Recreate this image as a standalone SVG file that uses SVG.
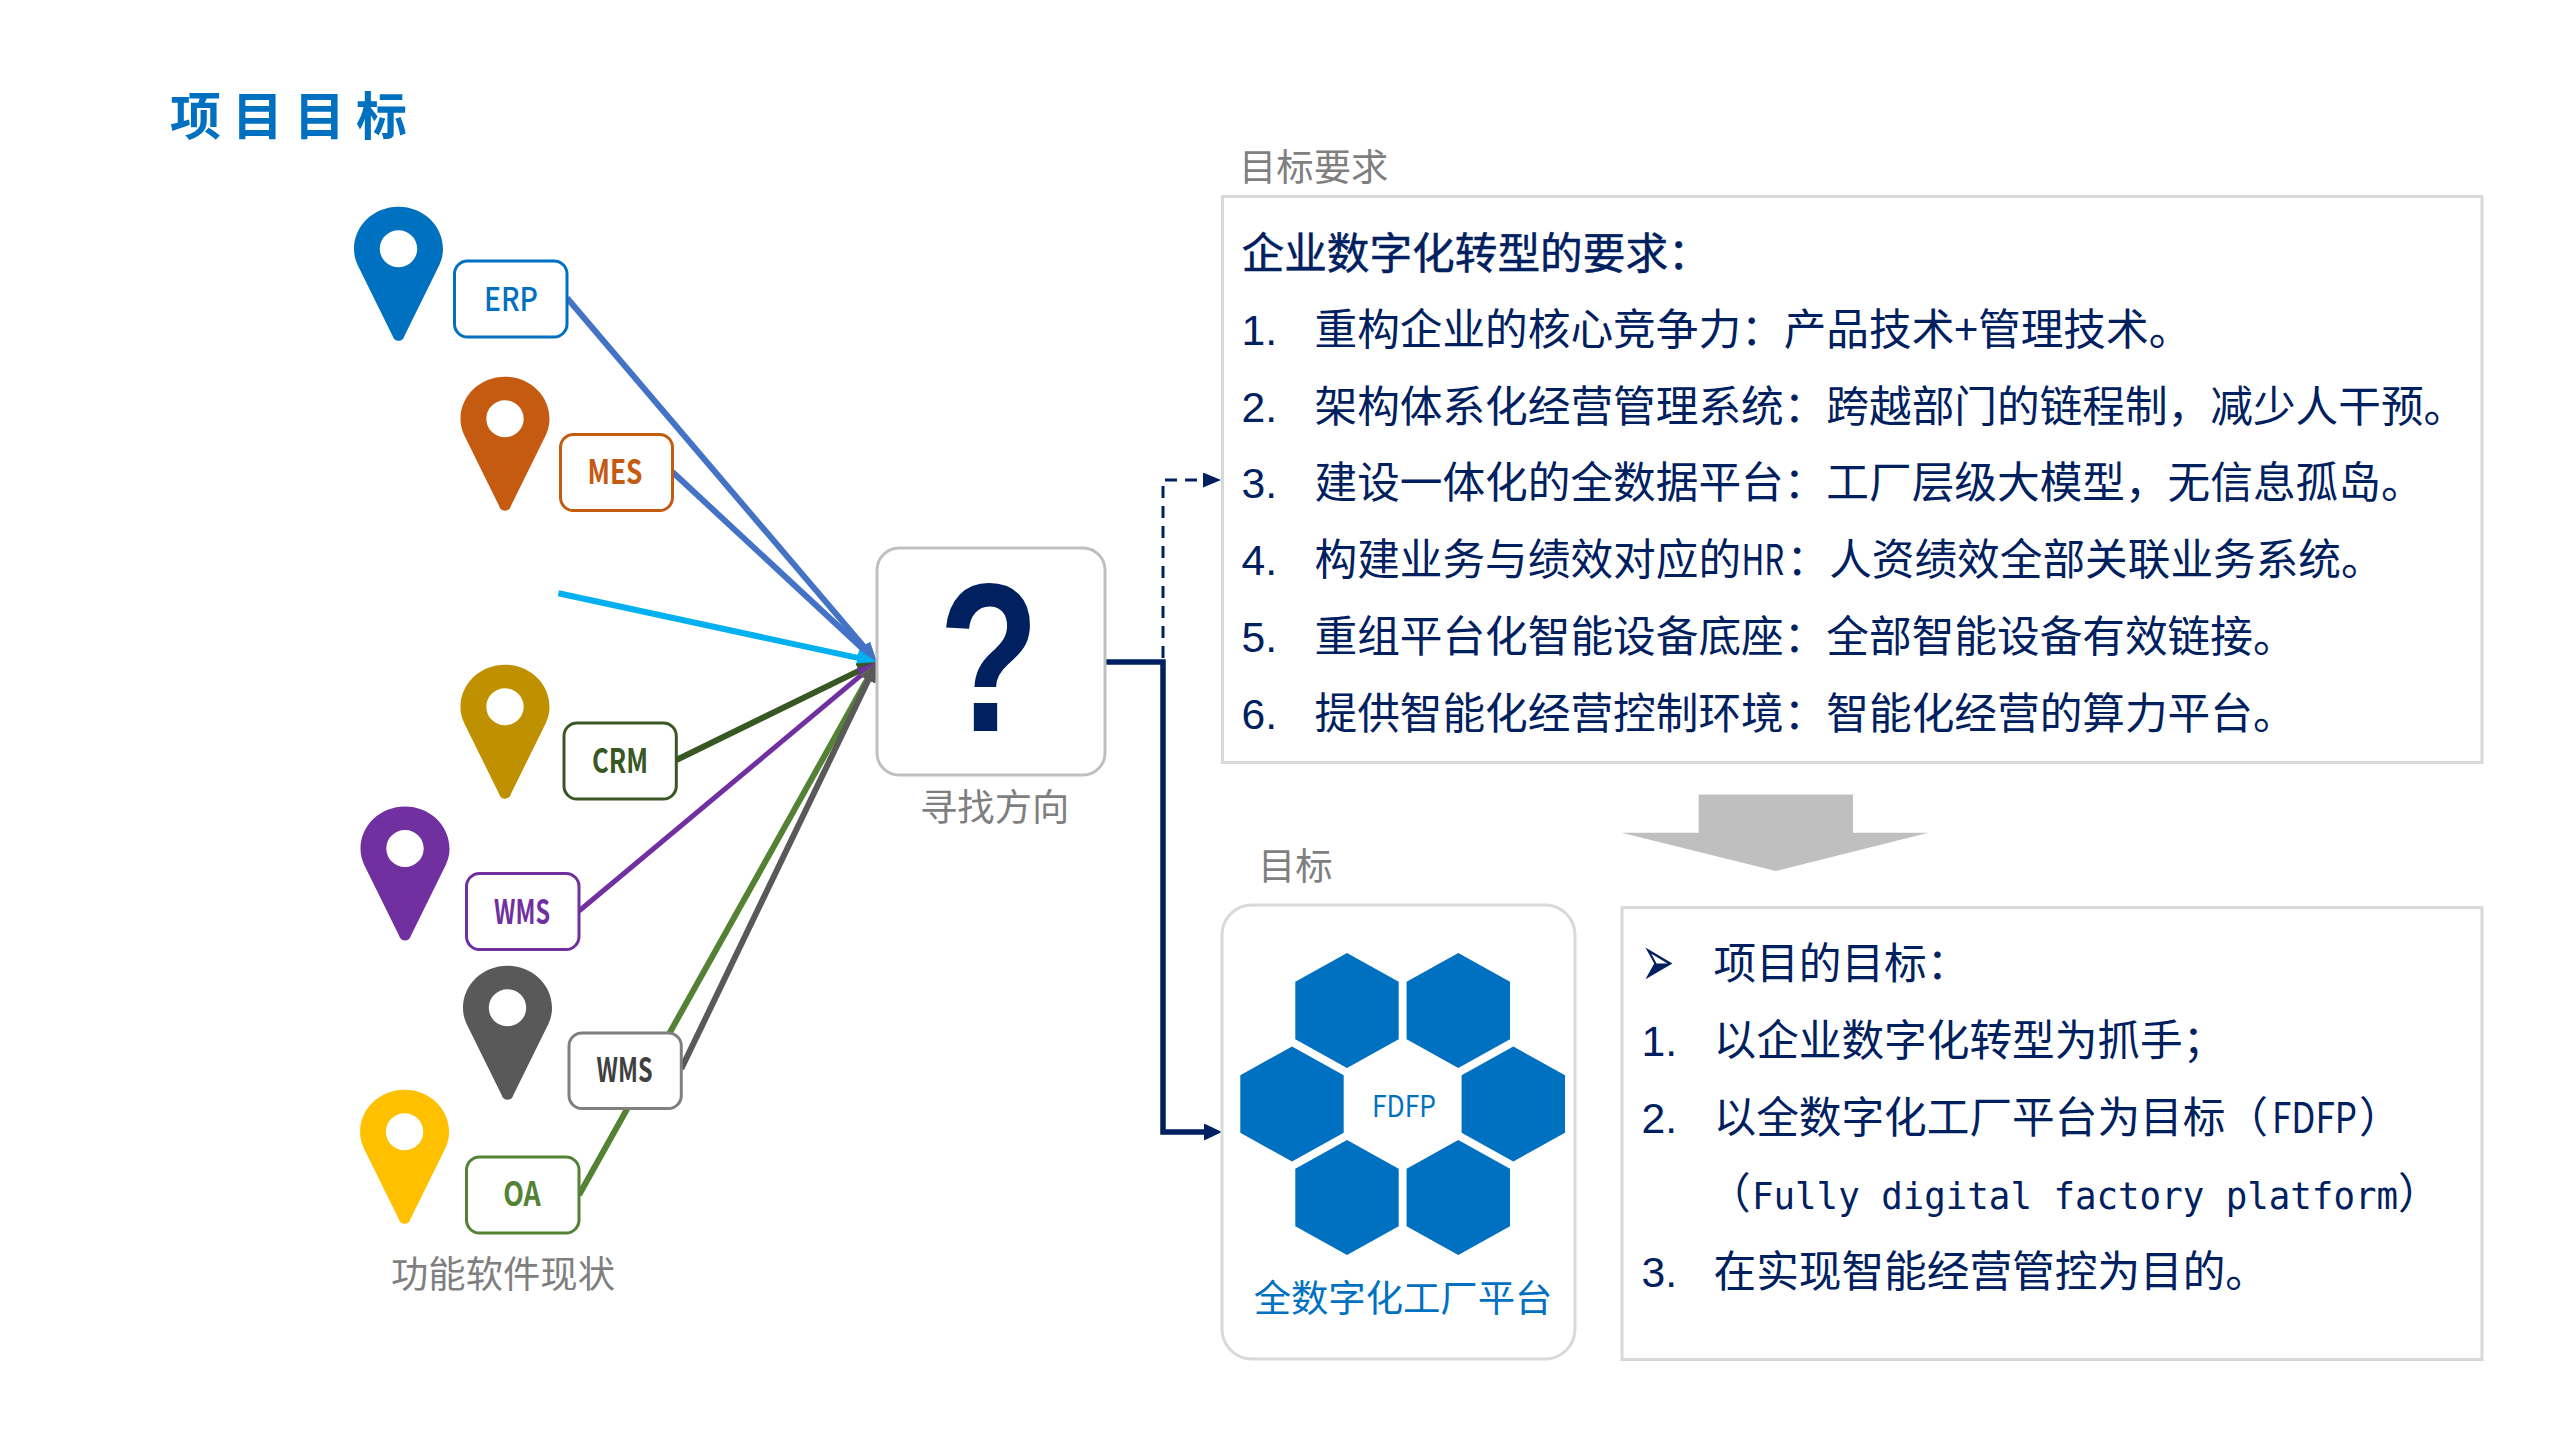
<svg xmlns="http://www.w3.org/2000/svg" width="2560" height="1440" viewBox="0 0 2560 1440">
<style>
text{font-family:"Noto Sans CJK SC","Noto Sans",sans-serif}
.cap{font-size:37.33px;fill:#7f7f7f}
.row{font-size:42.67px;fill:#002060}
.num{font-family:"Liberation Sans",Arial,sans-serif}
.tag{font-size:33px;text-anchor:middle}
.b{font-weight:700}
.box{fill:#fff;stroke-width:3}
.panel{fill:#fff;stroke:#d9d9d9;stroke-width:3}
.hex{fill:#0070c0}
.conn{fill:none;stroke-width:6}
</style>
<defs>
<path id="pin" fill-rule="evenodd" d="M0 0C24.6 0 44.5 18.8 44.5 42C44.5 48 43.5 52 41 58L6 129C5 132.500 3 134 0 134C-3 134 -5 132.500 -6 129L-41 58C-43.500 52 -44.500 48 -44.500 42C-44.500 18.800 -24.600 0 0 0ZM0 23.500C-10.300 23.500 -18.700 31.700 -18.700 42C-18.700 52.300 -10.300 60.500 0 60.500C10.300 60.500 18.700 52.300 18.700 42C18.700 31.700 10.300 23.500 0 23.500Z"/>
<polygon id="hx" points="0,-57.500 51.700,-28.800 51.700,28.800 0,57.500 -51.700,28.800 -51.700,-28.800"/>
<marker id="a1" markerUnits="userSpaceOnUse" viewBox="0 0 20 16" markerWidth="20" markerHeight="16" refX="10" refY="8" orient="auto"><path d="M0 0L20 8L0 16Z" fill="#4472c4"/></marker>
<marker id="a2" markerUnits="userSpaceOnUse" viewBox="0 0 20 16" markerWidth="20" markerHeight="16" refX="10" refY="8" orient="auto"><path d="M0 0L20 8L0 16Z" fill="#00b0f0"/></marker>
<marker id="a3" markerUnits="userSpaceOnUse" viewBox="0 0 20 16" markerWidth="20" markerHeight="16" refX="10" refY="8" orient="auto"><path d="M0 0L20 8L0 16Z" fill="#385723"/></marker>
<marker id="a4" markerUnits="userSpaceOnUse" viewBox="0 0 20 16" markerWidth="20" markerHeight="16" refX="10" refY="8" orient="auto"><path d="M0 0L20 8L0 16Z" fill="#7030a0"/></marker>
<marker id="a5" markerUnits="userSpaceOnUse" viewBox="0 0 20 16" markerWidth="20" markerHeight="16" refX="10" refY="8" orient="auto"><path d="M0 0L20 8L0 16Z" fill="#548235"/></marker>
<marker id="a6" markerUnits="userSpaceOnUse" viewBox="0 0 20 16" markerWidth="20" markerHeight="16" refX="10" refY="8" orient="auto"><path d="M0 0L20 8L0 16Z" fill="#595959"/></marker>
<marker id="a7" markerUnits="userSpaceOnUse" viewBox="0 0 18 17" markerWidth="18" markerHeight="17" refX="1" refY="8.500" orient="auto"><path d="M0 0L18 8.500L0 17Z" fill="#002060"/></marker>
<marker id="a8" markerUnits="userSpaceOnUse" viewBox="0 0 18 15" markerWidth="18" markerHeight="15" refX="1" refY="7.500" orient="auto"><path d="M0 0L18 7.500L0 15Z" fill="#002060"/></marker>
</defs>
<rect width="2560" height="1440" fill="#fff"/>

<text id="title" x="170" y="135" font-size="51" font-weight="700" letter-spacing="11" fill="#0070c0">项目目标</text>

<g id="connectors">
<path class="conn" stroke="#4472c4" marker-end="url(#a1)" d="M567 298L870.500 654.400"/>
<path class="conn" stroke="#4472c4" marker-end="url(#a1)" d="M672.500 472L869.700 655.200"/>
<path class="conn" stroke="#00b0f0" marker-end="url(#a2)" d="M558.400 593.300L867.200 659.900"/>
<path class="conn" stroke="#385723" marker-end="url(#a3)" d="M676.300 760L868 666.400"/>
<path class="conn" stroke="#7030a0" style="stroke-width:5" marker-end="url(#a4)" d="M579 911L869.300 668.400"/>
<path class="conn" stroke="#548235" marker-end="url(#a5)" d="M579 1195L872.100 670.700"/>
<path class="conn" stroke="#595959" marker-end="url(#a6)" d="M681.300 1068.800L872.700 671"/>
<path class="conn" stroke="#002060" style="stroke-width:3" stroke-dasharray="12 8" marker-end="url(#a8)" d="M1163 658V480H1204"/>
<path class="conn" stroke="#002060" style="stroke-width:5.500" marker-end="url(#a7)" d="M1105 662H1163V1132H1205"/>
</g>

<g id="erp"><use href="#pin" x="398.500" y="206.700" fill="#0070c0"/><rect class="box" x="454.500" y="261" width="112.500" height="76" rx="13" stroke="#0070c0"/><text class="tag" x="511" y="311" fill="#0070c0" font-weight="500" textLength="54" lengthAdjust="spacingAndGlyphs">ERP</text></g>
<g id="mes"><use href="#pin" x="505" y="376.700" fill="#c55a11"/><rect class="box" x="560.500" y="434.500" width="112" height="76" rx="13" stroke="#c55a11"/><text class="tag b" x="615" y="484" fill="#c55a11" textLength="55" lengthAdjust="spacingAndGlyphs">MES</text></g>
<g id="crm"><use href="#pin" x="505" y="664.700" fill="#bf9000"/><rect class="box" x="564" y="723" width="112.300" height="76" rx="13" stroke="#385723"/><text class="tag b" x="620" y="773" fill="#385723" textLength="56" lengthAdjust="spacingAndGlyphs">CRM</text></g>
<g id="wms1"><use href="#pin" x="405" y="806.600" fill="#7030a0"/><rect class="box" x="466.500" y="873.500" width="112.500" height="76" rx="13" stroke="#7030a0"/><text class="tag b" x="522" y="923.500" fill="#7030a0" textLength="56" lengthAdjust="spacingAndGlyphs">WMS</text></g>
<g id="wms2"><use href="#pin" x="507.500" y="965.700" fill="#595959"/><rect class="box" x="569" y="1033" width="112.300" height="75.500" rx="13" stroke="#7f7f7f"/><text class="tag b" x="624.500" y="1082" fill="#404040" textLength="56" lengthAdjust="spacingAndGlyphs">WMS</text></g>
<g id="oa"><use href="#pin" x="404.600" y="1089.800" fill="#ffc000"/><rect class="box" x="466.500" y="1157" width="112.500" height="76" rx="13" stroke="#548235"/><text class="tag b" x="522" y="1205.500" fill="#548235" textLength="37.500" lengthAdjust="spacingAndGlyphs">OA</text></g>
<text id="label-software" class="cap" x="391" y="1288">功能软件现状</text>

<g id="question"><rect class="box" x="877" y="548" width="228" height="227" rx="22" stroke="#bfbfbf"/><text x="938.500" y="731" font-size="211" font-weight="700" fill="#002060" style="font-family:'Liberation Sans',Arial,sans-serif" textLength="101" lengthAdjust="spacingAndGlyphs">?</text></g>
<text id="label-direction" class="cap" x="920" y="821">寻找方向</text>

<text id="label-req" class="cap" x="1239" y="180.500">目标要求</text>
<g id="requirements">
<rect class="panel" x="1222.500" y="196.500" width="1259.500" height="566"/>
<text class="row" x="1241.500" y="268.500" stroke="#002060" stroke-width="0.5">企业数字化转型的要求：</text>
<text class="row" y="344.500"><tspan class="num" x="1241.500">1.</tspan><tspan x="1314.500">重构企业的核心竞争力：产品技术+管理技术。</tspan></text>
<text class="row" y="421.500"><tspan class="num" x="1241.500">2.</tspan><tspan x="1314.500">架构体系化经营管理系统：跨越部门的链程制，减少人干预。</tspan></text>
<text class="row" y="498"><tspan class="num" x="1241.500">3.</tspan><tspan x="1314.500">建设一体化的全数据平台：工厂层级大模型，无信息孤岛。</tspan></text>
<text class="row" y="574.700"><tspan class="num" x="1241.500">4.</tspan><tspan x="1314.500">构建业务与绩效对应的</tspan><tspan x="1741.500" textLength="42.670" lengthAdjust="spacingAndGlyphs">HR</tspan><tspan x="1786.500">：人资绩效全部关联业务系统。</tspan></text>
<text class="row" y="652"><tspan class="num" x="1241.500">5.</tspan><tspan x="1314.500">重组平台化智能设备底座：全部智能设备有效链接。</tspan></text>
<text class="row" y="728.700"><tspan class="num" x="1241.500">6.</tspan><tspan x="1314.500">提供智能化经营控制环境：智能化经营的算力平台。</tspan></text>
</g>

<polygon id="down-arrow" fill="#bfbfbf" points="1698.700,794.500 1853,794.500 1853,832.800 1928.400,832.800 1775.700,871 1621.800,832.800 1698.700,832.800"/>

<text id="label-goal" class="cap" x="1258" y="880">目标</text>
<g id="fdfp">
<rect class="panel" x="1222" y="905" width="353" height="454" rx="30"/>
<use class="hex" href="#hx" x="1347" y="1010.500"/>
<use class="hex" href="#hx" x="1458.300" y="1010.500"/>
<use class="hex" href="#hx" x="1292" y="1104"/>
<use class="hex" href="#hx" x="1513.300" y="1104"/>
<use class="hex" href="#hx" x="1347" y="1197.500"/>
<use class="hex" href="#hx" x="1458.300" y="1197.500"/>
<text x="1404" y="1117" font-size="29.330" fill="#0070c0" text-anchor="middle" textLength="64" lengthAdjust="spacingAndGlyphs">FDFP</text>
<text x="1403" y="1311.500" font-size="37.330" fill="#0070c0" text-anchor="middle">全数字化工厂平台</text>
</g>

<g id="goals">
<rect class="panel" x="1622" y="907.500" width="860" height="452"/>
<text transform="translate(1641 985.500) scale(1.05 1.9)" font-size="38" fill="#002060" style="font-family:'DejaVu Sans',sans-serif">➢</text>
<text class="row" x="1713.500" y="979">项目的目标：</text>
<text class="row" y="1055.500"><tspan class="num" x="1641.500">1.</tspan><tspan x="1713.500">以企业数字化转型为抓手；</tspan></text>
<text class="row" y="1132.500"><tspan class="num" x="1641.500">2.</tspan><tspan x="1713.500">以全数字化工厂平台为目标（</tspan><tspan x="2272" textLength="85" lengthAdjust="spacingAndGlyphs">FDFP</tspan><tspan x="2359">）</tspan></text>
<text class="row" y="1209"><tspan x="1708">（</tspan><tspan x="1752" font-size="38" style="font-family:'DejaVu Sans Mono',monospace" textLength="646" lengthAdjust="spacingAndGlyphs">Fully digital factory platform</tspan><tspan x="2398">）</tspan></text>
<text class="row" y="1286.500"><tspan class="num" x="1641.500">3.</tspan><tspan x="1713.500">在实现智能经营管控为目的。</tspan></text>
</g>
</svg>
